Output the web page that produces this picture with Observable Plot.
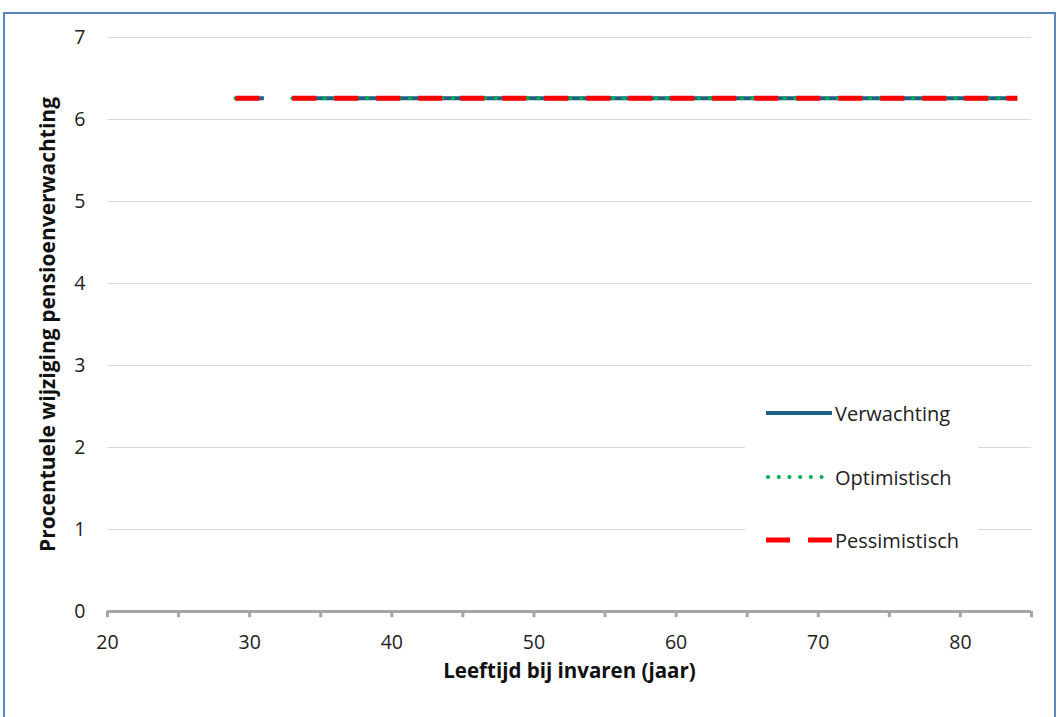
<!DOCTYPE html>
<html>
<head>
<meta charset="utf-8">
<script src="https://cdn.jsdelivr.net/npm/d3@7"></script>
<script src="https://cdn.jsdelivr.net/npm/@observablehq/plot@0.6"></script>
<style>
  body { margin: 0; background: #fff; font-family: "Open Sans", sans-serif; }
  #wrap { position: relative; width: 1059px; height: 717px; overflow: hidden; }
  #frame { position: absolute; left: 3px; top: 12px; width: 1053px; height: 720px; border: 2px solid #5a86c2; box-sizing: border-box; }
  #legend { position: absolute; left: 745px; top: 390px; width: 233px; height: 172px; background: #fff; }
  .item { position: absolute; left: 20px; height: 26px; display: flex; align-items: center; font-size: 20px; color: #222; white-space: nowrap; }
  .item svg { margin-right: 2px; }
</style>
</head>
<body>
<div id="wrap">
  <div id="frame"></div>
  <div id="chart"></div>
  <div id="legend"></div>
</div>
<script>
const ages = [29,30,31,32,33,34,35,36,37,38,39,40,41,42,43,44,45,46,47,48,49,50,51,52,53,54,55,56,57,58,59,60,61,62,63,64,65,66,67,68,69,70,71,72,73,74,75,76,77,78,79,80,81,82,83,84];
const verwachting = [6.26,6.26,6.26,null,6.26,6.26,6.26,6.26,6.26,6.26,6.26,6.26,6.26,6.26,6.26,6.26,6.26,6.26,6.26,6.26,6.26,6.26,6.26,6.26,6.26,6.26,6.26,6.26,6.26,6.26,6.26,6.26,6.26,6.26,6.26,6.26,6.26,6.26,6.26,6.26,6.26,6.26,6.26,6.26,6.26,6.26,6.26,6.26,6.26,6.26,6.26,6.26,6.26,6.26,6.26,6.26];
const optimistisch = [6.26,6.26,6.26,null,6.26,6.26,6.26,6.26,6.26,6.26,6.26,6.26,6.26,6.26,6.26,6.26,6.26,6.26,6.26,6.26,6.26,6.26,6.26,6.26,6.26,6.26,6.26,6.26,6.26,6.26,6.26,6.26,6.26,6.26,6.26,6.26,6.26,6.26,6.26,6.26,6.26,6.26,6.26,6.26,6.26,6.26,6.26,6.26,6.26,6.26,6.26,6.26,6.26,6.26,6.26,6.26];
const pessimistisch = [6.26,6.26,6.26,null,6.26,6.26,6.26,6.26,6.26,6.26,6.26,6.26,6.26,6.26,6.26,6.26,6.26,6.26,6.26,6.26,6.26,6.26,6.26,6.26,6.26,6.26,6.26,6.26,6.26,6.26,6.26,6.26,6.26,6.26,6.26,6.26,6.26,6.26,6.26,6.26,6.26,6.26,6.26,6.26,6.26,6.26,6.26,6.26,6.26,6.26,6.26,6.26,6.26,6.26,6.26,6.26];
const xTicksLabeled = [20,30,40,50,60,70,80];
const xTicksMinor = [20,25,30,35,40,45,50,55,60,65,70,75,80,85];
const yTicks = [0,1,2,3,4,5,6,7];
const seriesNames = ["Verwachting","Optimistisch","Pessimistisch"];

const styles = {
  Verwachting: {stroke: "#1f5f82", strokeWidth: 4, dash: null, cap: "butt"},
  Optimistisch: {stroke: "#00b050", strokeWidth: 4, dash: "0.1,10.6", cap: "round"},
  Pessimistisch: {stroke: "#ff0000", strokeWidth: 5, dash: "24,18", cap: "butt"}
};
const seriesValues = {Verwachting: verwachting, Optimistisch: optimistisch, Pessimistisch: pessimistisch};

const lineMarks = seriesNames.map(name => {
  const data = ages.map((a, i) => ({age: a, value: seriesValues[name][i]}));
  const s = styles[name];
  return Plot.line(data, {x: "age", y: "value", stroke: s.stroke, strokeWidth: s.strokeWidth,
    strokeDasharray: s.dash, strokeLinecap: s.cap});
});

const plot = Plot.plot({
  width: 1059, height: 717,
  marginLeft: 107, marginRight: 28, marginTop: 37, marginBottom: 106,
  style: {fontFamily: "'Open Sans', sans-serif", fontSize: "19.5px", color: "#222", background: "transparent", overflow: "visible"},
  x: {domain: [20, 85]},
  y: {domain: [0, 7]},
  marks: [
    Plot.ruleY(yTicks.filter(d => d > 0), {stroke: "#d9d9d9", strokeWidth: 1}),
    Plot.axisY({ticks: yTicks, tickSize: 0, tickPadding: 22, label: null, tickFormat: d => d}),
    Plot.ruleY([0], {stroke: "#a6a6a6", strokeWidth: 3}),
    Plot.ruleX(xTicksMinor, {x: d => d, y1: 0, y2: -0.075, stroke: "#a6a6a6", strokeWidth: 3, clip: false}),
    Plot.axisX({ticks: xTicksLabeled, tickSize: 0, tickPadding: 24, label: null, tickFormat: d => d}),
    ...lineMarks,
    Plot.text(["Procentuele wijziging pensioenverwachting"], {frameAnchor: "left", textAnchor: "middle", dx: -59, rotate: -90, fontWeight: "bold", fontSize: 21, fill: "#111"}),
    Plot.text(["Leeftijd bij invaren (jaar)"], {frameAnchor: "bottom", textAnchor: "middle", dy: 66, fontWeight: "bold", fontSize: 20.5, fill: "#111"})
  ]
});
document.getElementById("chart").appendChild(plot);

// legend
const legend = document.getElementById("legend");
const tops = [10, 74, 137];
seriesNames.forEach((name, i) => {
  const s = styles[name];
  const div = document.createElement("div");
  div.className = "item";
  div.style.top = tops[i] + "px";
  div.innerHTML = `<svg width="68" height="10"><line x1="${name==='Optimistisch'?3:1}" x2="${name==='Optimistisch'?66:67}" y1="5" y2="5" stroke="${s.stroke}" stroke-width="${s.strokeWidth}" ${s.dash ? `stroke-dasharray="${s.dash}"` : ""} stroke-linecap="${s.cap}"/></svg><span>${name}</span>`;
  legend.appendChild(div);
});
</script>
</body>
</html>
